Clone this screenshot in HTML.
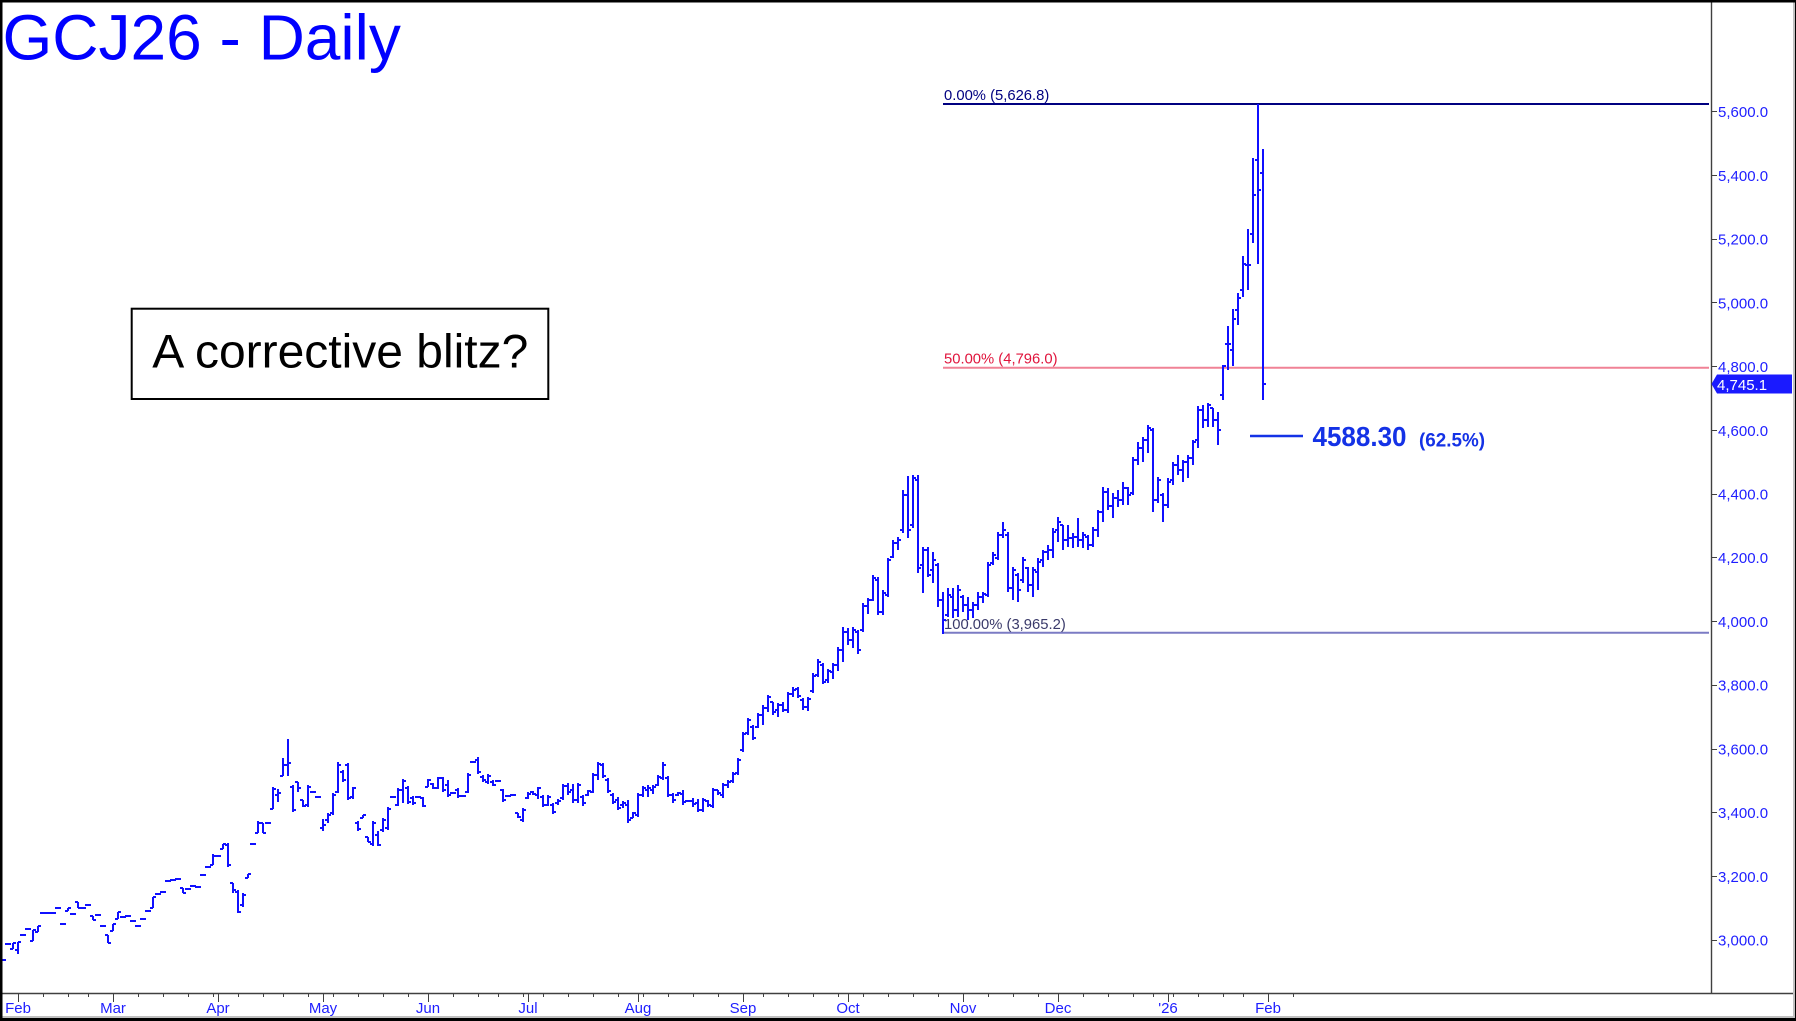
<!DOCTYPE html>
<html>
<head>
<meta charset="utf-8">
<style>
html,body{margin:0;padding:0;background:#fff;}
svg{display:block;}
text{font-family:"Liberation Sans",Arial,sans-serif;}
</style>
</head>
<body>
<svg width="1796" height="1021" viewBox="0 0 1796 1021" xmlns="http://www.w3.org/2000/svg">
<rect x="0" y="0" width="1796" height="1021" fill="#ffffff"/>

<!-- Title -->
<text x="2.5" y="59.5" font-size="64" fill="#0000ff">GCJ26 - Daily</text>

<!-- Fib lines -->
<line x1="943" y1="104" x2="1709" y2="104" stroke="#000080" stroke-width="2"/>
<line x1="943" y1="367.7" x2="1709" y2="367.7" stroke="#f08296" stroke-width="2"/>
<line x1="943" y1="632.7" x2="1709" y2="632.7" stroke="#7b7bc4" stroke-width="2"/>
<text x="944" y="100" font-size="14.8" fill="#000080">0.00% (5,626.8)</text>
<text x="944" y="363.5" font-size="14.8" fill="#e0143c">50.00% (4,796.0)</text>
<text x="944" y="629" font-size="14.8" fill="#3a3a6a">100.00% (3,965.2)</text>

<!-- Price bars -->
<path fill="none" stroke="#1010ff" stroke-width="2" d="
M0 960H6M5 944H11M13 943V949M10 949H13M13 943H16M18 942V954M15 950H18M18 942H21M20 935H26M25 929H31
M33 930V941M30 941H33M33 930H36M38 926V932M35 932H38M38 926H41M40 913H46M45 913H51M50 913H56M55 908H61M60 924H66
M68 908V911M65 911H68M68 908H71M70 914H76M78 902V908M75 902H78M78 908H81M80 908H86M85 905H91
M93 916V920M90 916H93M93 920H96M95 915H101M100 926H106M108 935V943M105 935H108M108 943H111
M113 924V931M110 931H113M113 924H116M118 912V919M115 919H118M118 912H121M120 917H126M125 916H131M130 921H136
M135 926H141M140 919H146M145 911H151M153 897V908M150 908H153M153 897H156M155 894H161M160 892H166
M165 881H171M170 880H176M175 879H181M183 888V893M180 888H183M183 893H186M185 889H191M190 886H196M195 887H201
M200 875H206M205 867H211M213 854V865M210 865H213M213 856H216M215 856H221M223 844V849M220 849H223M223 844H226
M228 843V867M225 845H228M228 865H231M233 883V893M230 883H233M233 890H236M238 890V913M235 892H238M238 912H241
M243 893V907M240 905H243M243 895H246M248 874V878M245 878H248M248 874H251M250 844H256
M258 821V833M255 833H258M258 823H261M263 823V833M260 823H263M263 833H266M265 823H271
M273 787V809M270 809H273M273 789H276M278 789V802M275 795H278M278 793H281M283 758V776M280 776H283M283 765H286
M288 739V776M285 765H288M288 763H291M293 785V812M290 787H293M293 810H296M298 782V792M295 782H298M298 788H301
M303 800V807M300 800H303M303 806H306M308 785V807M305 805H308M308 787H311M310 792H316M315 797H321
M323 819V831M320 828H323M323 825H326M328 813V823M325 820H328M328 815H331M333 793V815M330 813H333M333 795H336
M338 762V793M335 792H338M338 765H341M343 770V782M340 772H343M343 780H346M348 763V800M345 765H348M348 798H351
M353 787V799M350 797H353M353 788H356M358 821V831M355 823H358M358 829H361M363 815V818M360 818H363M363 815H366
M368 837V842M365 837H368M368 842H371M373 821V846M370 844H373M373 823H376M378 831V846M375 835H378M378 845H381
M383 818V832M380 830H383M383 820H386M388 807V830M385 828H388M388 809H391M390 797H396
M398 788V806M395 805H398M398 790H401M403 779V803M400 790H403M403 781H406M408 786V804M405 788H408M408 802H411
M413 796V805M410 798H413M413 803H416M415 797H421M423 797V807M420 798H423M423 806H426
M428 779V787M425 787H428M428 780H431M433 783V789M430 784H433M433 788H436M438 777V789M435 788H438M438 778H441
M443 777V792M440 778H443M443 790H446M448 780V797M445 785H448M448 795H451M450 793H456
M458 788V798M455 790H458M458 796H461M460 796H466M468 773V793M465 792H468M468 775H471M470 762H476
M478 757V774M475 760H478M478 772H481M483 775V782M480 777H483M483 780H486M488 774V784M485 782H488M488 776H491
M493 780V786M490 782H493M493 785H496M495 781H501M503 789V802M500 790H503M503 800H506M505 796H511M510 795H516
M518 813V818M515 813H518M518 817H521M523 808V822M520 820H523M523 810H526M528 792V799M525 798H528M528 794H531
M533 791V795M530 792H533M533 794H536M538 787V799M535 795H538M538 788H541M543 795V807M540 797H543M543 805H546
M548 795V806M545 805H548M548 797H551M553 803V814M550 805H553M553 812H556M558 799V805M555 803H558M558 801H561
M563 784V800M560 798H563M563 786H566M568 783V795M565 786H568M568 792H571M573 784V803M570 790H573M573 800H576
M578 783V803M575 800H578M578 785H581M583 795V806M580 797H583M583 803H586M588 790V796M585 795H588M588 791H591
M593 773V793M590 792H593M593 775H596M598 762V780M595 775H598M598 764H601M603 763V778M600 765H603M603 776H606
M608 778V793M605 780H608M608 791H611M613 793V804M610 795H613M613 802H616M618 797V810M615 800H618M618 808H621
M623 801V808M620 805H623M623 803H626M628 800V823M625 805H628M628 820H631M633 812V818M630 818H633M633 813H636
M638 793V817M635 815H638M638 795H641M643 786V797M640 795H643M643 788H646M648 785V797M645 790H648M648 788H651
M653 785V794M650 790H653M653 787H656M658 775V786M655 785H658M658 777H661M663 762V780M660 778H663M663 765H666
M668 776V797M665 778H668M668 795H671M673 793V803M670 795H673M673 800H676M678 792V796M675 795H678M678 793H681
M683 790V805M680 794H683M683 802H686M685 801H691M693 798V807M690 801H693M693 804H696
M698 799V812M695 803H698M698 810H701M703 798V812M700 810H703M703 800H706M708 800V807M705 801H708M708 805H711
M713 788V808M710 806H713M713 790H716M718 790V795M715 790H718M718 793H721M723 783V798M720 795H723M723 785H726
M728 780V788M725 785H728M728 782H731M733 772V783M730 781H733M733 774H736M738 758V775M735 773H738M738 760H741
M743 732V752M740 750H743M743 734H746M748 718V735M745 733H748M748 720H751M753 725V740M750 727H753M753 738H756
M758 713V728M755 727H758M758 715H761M763 705V725M760 715H763M763 708H766M768 695V712M765 708H768M768 697H771
M773 702V715M770 702H773M773 712H776M778 703V717M775 710H778M778 705H781M783 702V712M780 705H783M783 710H786
M788 692V713M785 710H788M788 694H791M793 687V697M790 694H793M793 690H796M798 687V698M795 689H798M798 696H801
M803 698V710M800 700H803M803 707H806M808 697V711M805 707H808M808 699H811M813 673V693M810 691H813M813 676H816
M818 659V677M815 675H818M818 662H821M823 663V684M820 665H823M823 682H826M828 669V683M825 680H828M828 671H831
M833 663V679M830 672H833M833 665H836M838 647V671M835 665H838M838 650H841M843 627V662M840 650H843M843 632H846
M848 628V645M845 632H848M848 640H851M853 627V648M850 640H853M853 630H856M858 630V654M855 632H858M858 650H861
M863 603V632M860 630H863M863 606H866M868 598V614M865 606H868M868 600H871M873 575V601M870 600H873M873 578H876
M878 577V615M875 580H878M878 612H881M883 590V615M880 612H883M883 593H886M888 558V597M885 595H888M888 560H891
M893 540V558M890 557H893M893 543H896M898 537V550M895 543H898M898 540H901M903 490V533M900 530H903M903 495H906
M908 476V538M905 495H908M908 530H911M913 475V528M910 525H913M913 478H916M918 475V573M915 480H918M918 568H921
M923 547V593M920 565H923M923 550H926M928 547V577M925 550H928M928 575H931M933 552V583M930 570H933M933 560H936
M938 563V607M935 565H938M938 600H941M943 592V634M940 600H943M943 620H946M948 588V617M945 615H948M948 595H951
M953 588V618M950 597H953M953 610H956M958 585V617M955 610H958M958 590H961M963 595V612M960 597H963M963 605H966
M968 597V620M965 605H968M968 610H971M973 602V618M970 610H973M973 605H976M978 592V610M975 605H978M978 597H981
M983 592V603M980 597H983M983 594H986M988 562V597M985 595H988M988 565H991M993 552V565M990 563H993M993 555H996
M998 532V560M995 558H998M998 535H1001M1003 522V538M1000 535H1003M1003 530H1006M1008 532V592M1005 535H1008M1008 588H1011
M1013 567V600M1010 588H1013M1013 570H1016M1018 573V602M1015 575H1018M1018 590H1021M1023 557V583M1020 580H1023M1023 560H1026
M1028 567V592M1025 568H1028M1028 585H1031M1033 567V597M1030 585H1033M1033 570H1036M1038 558V590M1035 572H1038M1038 562H1041
M1043 550V567M1040 560H1043M1043 552H1046M1048 545V560M1045 552H1048M1048 550H1051M1053 528V558M1050 550H1053M1053 532H1056
M1058 517V542M1055 530H1058M1058 522H1061M1063 525V550M1060 525H1063M1063 540H1066M1068 525V547M1065 540H1068M1068 538H1071
M1073 533V548M1070 538H1073M1073 537H1076M1078 518V547M1075 537H1078M1078 540H1081M1083 532V548M1080 540H1083M1083 535H1086
M1088 535V550M1085 537H1088M1088 545H1091M1093 527V547M1090 545H1093M1093 530H1096M1098 510V537M1095 530H1098M1098 512H1101
M1103 487V522M1100 512H1103M1103 492H1106M1108 488V510M1105 492H1108M1108 506H1111M1113 493V518M1110 506H1113M1113 498H1116
M1118 490V507M1115 498H1118M1118 500H1121M1123 482V505M1120 500H1123M1123 488H1126M1128 487V505M1125 488H1128M1128 495H1131
M1133 457V495M1130 493H1133M1133 460H1136M1138 442V465M1135 460H1138M1138 448H1141M1143 437V462M1140 448H1143M1143 440H1146
M1148 425V453M1145 440H1148M1148 428H1151M1153 428V512M1150 430H1153M1153 500H1156M1158 477V503M1155 500H1158M1158 480H1161
M1163 493V522M1160 495H1163M1163 505H1166M1168 478V508M1165 505H1168M1168 482H1171M1173 462V485M1170 480H1173M1173 465H1176
M1178 455V475M1175 465H1178M1178 470H1181M1183 460V482M1180 470H1183M1183 462H1186M1188 455V478M1185 462H1188M1188 458H1191
M1193 440V465M1190 458H1193M1193 442H1196M1198 406V448M1195 440H1198M1198 410H1201M1203 405V428M1200 410H1203M1203 420H1206
M1208 403V427M1205 420H1208M1208 405H1211M1213 408V427M1210 408H1213M1213 420H1216M1218 412V445M1215 420H1218M1218 430H1221
M1223 365V400M1220 395H1223M1223 366H1226M1228 326V370M1225 344H1228M1228 344H1231M1233 309V366M1230 350H1233M1233 319H1236
M1238 293V325M1235 310H1238M1238 298H1241M1243 256V297M1240 290H1243M1243 264H1246M1248 229V290M1245 265H1248M1248 265H1251
M1253 158V243M1250 234H1253M1253 195H1256M1258 104V264M1255 160H1258M1258 190H1261M1263 149V400M1260 173H1263M1263 384H1266
"/>

<!-- 4588.30 target -->
<line x1="1250" y1="436" x2="1303" y2="436" stroke="#1432e6" stroke-width="2.5"/>
<text x="1312.5" y="446" font-size="28" font-weight="bold" fill="#1432e6" textLength="94" lengthAdjust="spacingAndGlyphs">4588.30</text>
<text x="1419" y="446.5" font-size="19" font-weight="bold" fill="#1432e6" textLength="66" lengthAdjust="spacingAndGlyphs">(62.5%)</text>

<!-- Annotation box -->
<rect x="131.7" y="308.7" width="416.6" height="90.3" fill="#ffffff" stroke="#000000" stroke-width="2"/>
<text x="152.3" y="367.7" font-size="47" fill="#000000" textLength="376" lengthAdjust="spacingAndGlyphs">A corrective blitz?</text>

<!-- Axes -->
<line x1="1711.5" y1="0" x2="1711.5" y2="993.5" stroke="#404040" stroke-width="1.4"/>
<line x1="0" y1="993.5" x2="1794" y2="993.5" stroke="#404040" stroke-width="1.4"/>

<!-- Right axis ticks -->
<path stroke="#404040" stroke-width="1" fill="none" d="
M1711 940.5H1717M1711 876.5H1717M1711 812.5H1717M1711 749.5H1717M1711 685.5H1717M1711 621.5H1717M1711 557.5H1717
M1711 494.5H1717M1711 430.5H1717M1711 366.5H1717M1711 302.5H1717M1711 239.5H1717M1711 175.5H1717M1711 111.5H1717"/>
<g font-size="15" fill="#1e1eff">
<text x="1718" y="945.5">3,000.0</text>
<text x="1718" y="881.8">3,200.0</text>
<text x="1718" y="818.1">3,400.0</text>
<text x="1718" y="754.4">3,600.0</text>
<text x="1718" y="690.6">3,800.0</text>
<text x="1718" y="626.9">4,000.0</text>
<text x="1718" y="563.2">4,200.0</text>
<text x="1718" y="499.5">4,400.0</text>
<text x="1718" y="435.8">4,600.0</text>
<text x="1718" y="372.1">4,800.0</text>
<text x="1718" y="308.3">5,000.0</text>
<text x="1718" y="244.6">5,200.0</text>
<text x="1718" y="180.9">5,400.0</text>
<text x="1718" y="117.2">5,600.0</text>
</g>

<!-- Last price box -->
<polygon points="1711.5,384 1717,374.5 1792,374.5 1792,393.5 1717,393.5" fill="#1a1aff"/>
<text x="1717" y="390" font-size="15" fill="#ffffff">4,745.1</text>

<!-- Bottom axis ticks -->
<path stroke="#404040" stroke-width="1" fill="none" d="
M18.5 993V1002M113.5 993V1002M218.5 993V1002M323.5 993V1002M428.5 993V1002M528.5 993V1002M638.5 993V1002
M743.5 993V1002M848.5 993V1002M963.5 993V1002M1058.5 993V1002M1168.5 993V1002M1268.5 993V1002
M43.5 993V997M68.5 993V997M88.5 993V997M138.5 993V997M163.5 993V997M188.5 993V997M213.5 993V997
M238.5 993V997M263.5 993V997M283.5 993V997M308.5 993V997M333.5 993V997M358.5 993V997M383.5 993V997M408.5 993V997
M453.5 993V997M478.5 993V997M498.5 993V997M523.5 993V997M543.5 993V997M568.5 993V997M593.5 993V997M618.5 993V997
M643.5 993V997M668.5 993V997M693.5 993V997M718.5 993V997M763.5 993V997M788.5 993V997M813.5 993V997M838.5 993V997
M863.5 993V997M888.5 993V997M913.5 993V997M938.5 993V997M988.5 993V997M1013.5 993V997M1038.5 993V997
M1083.5 993V997M1108.5 993V997M1133.5 993V997M1153.5 993V997M1173.5 993V997M1198.5 993V997M1223.5 993V997M1243.5 993V997
M1293.5 993V997"/>
<g font-size="15" fill="#1e1eff" text-anchor="middle">
<text x="18" y="1013">Feb</text>
<text x="113" y="1013">Mar</text>
<text x="218" y="1013">Apr</text>
<text x="323" y="1013">May</text>
<text x="428" y="1013">Jun</text>
<text x="528" y="1013">Jul</text>
<text x="638" y="1013">Aug</text>
<text x="743" y="1013">Sep</text>
<text x="848" y="1013">Oct</text>
<text x="963" y="1013">Nov</text>
<text x="1058" y="1013">Dec</text>
<text x="1168" y="1013">'26</text>
<text x="1268" y="1013">Feb</text>
</g>

<!-- Frame -->
<rect x="1793" y="0" width="2" height="1021" fill="#c0c0c0"/>
<rect x="0" y="1016" width="1796" height="2" fill="#c0c0c0"/>
<rect x="0" y="0" width="1796" height="2.5" fill="#000"/>
<rect x="0" y="0" width="2.5" height="1021" fill="#000"/>
<rect x="1795" y="0" width="1" height="1021" fill="#000"/>
<rect x="0" y="1018" width="1796" height="3" fill="#000"/>
</svg>
</body>
</html>
